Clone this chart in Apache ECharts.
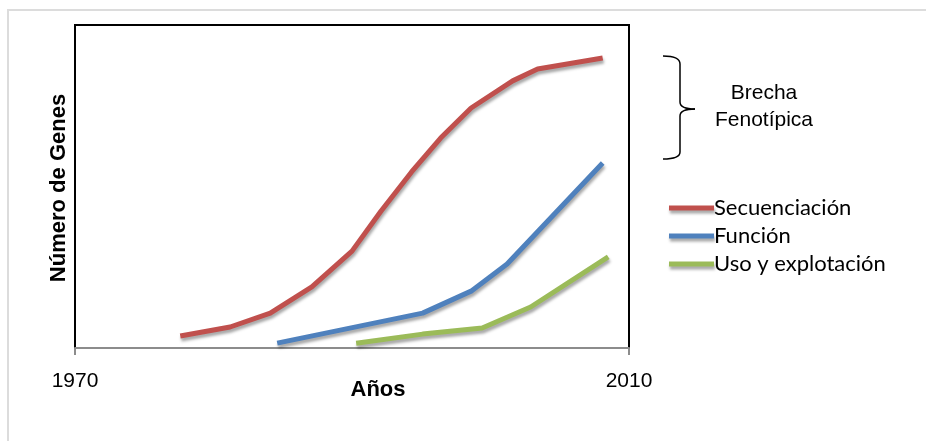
<!DOCTYPE html>
<html>
<head>
<meta charset="utf-8">
<script src="https://cdn.jsdelivr.net/npm/echarts@6/dist/echarts.min.js"></script>
<style>
  html, body { margin: 0; padding: 0; background: #fff; }
  #chart { width: 926px; height: 441px; }
</style>
</head>
<body>
<div id="chart"></div>
<script>
// Axis range and tick labels (years)
const yearTicks = [1970, 2010];
const valueRange = [0, 100];

// Series: [year, relative number of genes]
const secuenciacion = [
  [1977.6, 3.7], [1981.2, 6.5], [1984.1, 10.8], [1987.1, 18.9], [1990.0, 30.0],
  [1992.1, 42.4], [1994.3, 54.5], [1996.4, 65.0], [1998.6, 74.3], [2001.6, 82.7],
  [2003.4, 86.4], [2008.1, 89.8]
];
const funcion = [
  [1984.6, 1.5], [1995.1, 10.8], [1998.6, 17.6], [2001.2, 26.0], [2008.1, 57.3]
];
const usoExplotacion = [
  [1990.3, 1.5], [1995.1, 4.3], [1999.4, 6.2], [2002.9, 12.7], [2008.5, 28.2]
];

const seriesNames = ['Secuenciación', 'Función', 'Uso y explotación'];
const seriesColors = ['#C0504D', '#4F81BD', '#9BBB59'];
const seriesData = [secuenciacion, funcion, usoExplotacion];

const ARIAL = "'Liberation Sans', Arial, sans-serif";

const chart = echarts.init(document.getElementById('chart'), null, { renderer: 'canvas' });

const shadow = {
  shadowColor: 'rgba(0,0,0,0.35)',
  shadowBlur: 3,
  shadowOffsetX: 1,
  shadowOffsetY: 3
};

// Curly brace beside the top of the chart
const braceStyle = { fill: 'none', stroke: '#000', lineWidth: 1.5 };
const brace = [
  { type: 'bezierCurve', shape: { x1: 663, y1: 56, cpx1: 680, cpy1: 56, x2: 680, y2: 64 }, style: braceStyle },
  { type: 'line', shape: { x1: 680, y1: 64, x2: 680, y2: 102 }, style: braceStyle },
  { type: 'bezierCurve', shape: { x1: 680, y1: 102, cpx1: 680, cpy1: 109, x2: 695, y2: 109 }, style: braceStyle },
  { type: 'bezierCurve', shape: { x1: 695, y1: 109, cpx1: 680, cpy1: 109, x2: 680, y2: 116 }, style: braceStyle },
  { type: 'line', shape: { x1: 680, y1: 116, x2: 680, y2: 152 }, style: braceStyle },
  { type: 'bezierCurve', shape: { x1: 680, y1: 152, cpx1: 680, cpy1: 159, x2: 663, y2: 159 }, style: braceStyle }
];

chart.setOption({
  animation: false,
  backgroundColor: '#ffffff',
  grid: {
    left: 75, top: 25, right: 297, bottom: 93,
    show: true,
    borderColor: '#000000',
    borderWidth: 2,
    backgroundColor: 'transparent'
  },
  xAxis: {
    type: 'value',
    min: yearTicks[0],
    max: yearTicks[1],
    interval: yearTicks[1] - yearTicks[0],
    axisLine: { show: true, lineStyle: { color: '#8c8c8c', width: 2 } },
    axisTick: { show: true, length: 7, lineStyle: { color: '#8c8c8c', width: 2 } },
    axisLabel: {
      margin: 23,
      fontFamily: ARIAL,
      fontSize: 21,
      color: '#000',
      formatter: (v) => String(v)
    },
    splitLine: { show: false }
  },
  yAxis: {
    type: 'value',
    min: valueRange[0],
    max: valueRange[1],
    axisLine: { show: false },
    axisTick: { show: false },
    axisLabel: { show: false },
    splitLine: { show: false }
  },
  legend: {
    orient: 'vertical',
    left: 664,
    top: 192,
    itemWidth: 45,
    itemHeight: 5,
    itemGap: 6,
    icon: 'rect',
    data: seriesNames,
    itemStyle: shadow,
    textStyle: {
      fontFamily: 'Lato, Carlito, sans-serif',
      fontSize: 22,
      color: '#000',
      padding: [0, 0, 0, -5]
    }
  },
  graphic: [
    {
      type: 'rect',
      shape: { x: 8, y: 10, width: 940, height: 460 },
      style: { fill: 'none', stroke: '#dcdcdc', lineWidth: 2 },
      silent: true
    },
    {
      type: 'text',
      x: 59, y: 188,
      rotation: Math.PI / 2,
      style: {
        text: 'Número de Genes',
        fontFamily: ARIAL,
        fontSize: 22,
        fontWeight: 'bold',
        fill: '#000',
        align: 'center',
        verticalAlign: 'middle'
      }
    },
    {
      type: 'text',
      x: 378, y: 390,
      style: {
        text: 'Años',
        fontFamily: ARIAL,
        fontSize: 22,
        fontWeight: 'bold',
        fill: '#000',
        align: 'center',
        verticalAlign: 'middle'
      }
    },
    ...brace,
    {
      type: 'text',
      x: 764, y: 93,
      style: {
        text: 'Brecha',
        fontFamily: ARIAL,
        fontSize: 21,
        fill: '#000',
        align: 'center',
        verticalAlign: 'middle'
      }
    },
    {
      type: 'text',
      x: 764, y: 120,
      style: {
        text: 'Fenotípica',
        fontFamily: ARIAL,
        fontSize: 21,
        fill: '#000',
        align: 'center',
        verticalAlign: 'middle'
      }
    }
  ],
  series: seriesData.map((d, i) => ({
    name: seriesNames[i],
    type: 'line',
    data: d,
    showSymbol: false,
    symbol: 'none',
    color: seriesColors[i],
    lineStyle: Object.assign({ width: 5, color: seriesColors[i], cap: 'butt', join: 'round' }, shadow),
    emphasis: { disabled: true }
  }))
});
</script>
</body>
</html>
